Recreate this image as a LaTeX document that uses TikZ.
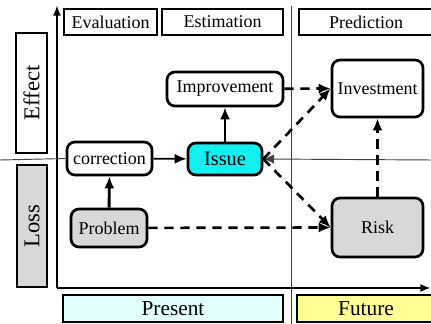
\documentclass[tikz,border=0pt]{standalone}
\usepackage{fontspec}
\setmainfont{Liberation Serif}
\usetikzlibrary{arrows.meta}
\definecolor{issuecyan}{RGB}{20,240,240}
\definecolor{boxgrey}{RGB}{216,216,216}
\definecolor{presentfill}{RGB}{225,255,255}
\definecolor{futurefill}{RGB}{255,255,150}
\begin{document}
\begin{tikzpicture}[x=0.75pt,y=-0.75pt,
  every node/.style={inner sep=0pt,font=\fontsize{13.5}{16}\selectfont},
  label box/.style={draw,line width=0.8pt,minimum height=19.5pt},
  side box/.style={draw,line width=1.4pt,rotate=90,font=\fontsize{17}{20}\selectfont},
  time box/.style={draw,line width=1.3pt,minimum height=20.25pt,font=\fontsize{16}{19}\selectfont},
  item/.style={draw,line width=2pt,rounded corners=6pt},
  tip/.style={-{Latex[length=9pt,width=7.5pt]}},
  solidlink/.style={tip,line width=2.2pt},
  dashlink/.style={tip,line width=2pt,dash pattern=on 7pt off 5pt},
  thin rule/.style={line width=0.7pt,black!75}]
\useasboundingbox (0,0) rectangle (431,324);

% guide rule splitting present from future
\draw[thin rule] (291,6) -- (291,324);

% column headings
\node[label box,minimum width=69.75pt] (eval) at (110.5,22) {Evaluation};
\node[label box,minimum width=90.75pt] (est) at (222.5,22) {Estimation};
\node[label box,minimum width=100.5pt] (pred) at (366,22) {Prediction};

% row headings
\node[side box,minimum width=90pt,minimum height=23.25pt] (effect) at (31.5,93) {Effect};
\node[side box,fill=boxgrey,minimum width=91.5pt,minimum height=22.5pt] (loss) at (32,226) {Loss};

% time headings
\node[time box,fill=presentfill,minimum width=165pt] (present) at (173,308.5) {Present};
\node[time box,fill=futurefill,minimum width=103.5pt] (future) at (366,308.5) {Future};

% axes
\coordinate (origin) at (57,288);
\coordinate (ytop) at (57,5);
\coordinate (xend) at (431,288);
\draw[line width=1.6pt,-{Latex[length=8pt,width=6pt]}] (origin) -- (ytop);
\draw[line width=1.6pt,-{Latex[length=8pt,width=6pt]}] (origin) -- (xend);

% items
\node[item,minimum width=87pt,minimum height=25.5pt] (impr) at (225,89) {Improvement};
\node[item,minimum width=68.25pt,minimum height=42.75pt] (invest) at (377.5,88.5) {Investment};
\node[item,minimum width=63.75pt,minimum height=24.75pt] (corr) at (109.5,158.5) {correction};
\node[item,fill=issuecyan,minimum width=55.5pt,minimum height=24pt,font=\fontsize{15.3}{18}\selectfont] (issue) at (225,159) {Issue};
\node[item,fill=boxgrey,minimum width=57pt,minimum height=28.5pt] (prob) at (109,228) {Problem};
\node[item,fill=boxgrey,minimum width=68.25pt,minimum height=44.25pt] (risk) at (377.5,227.5) {Risk};

% horizontal guide rule
\coordinate (leftend) at (0,160);
\coordinate (rightend) at (433,160);
\draw[thin rule] (leftend) -- (corr.west);
\draw[thin rule,-{Latex[length=8pt,width=7pt]}] (rightend) -- (issue.east);

% links
\draw[solidlink] (prob) -- (corr);
\draw[tip,line width=1.4pt] (corr) -- (issue);
\draw[solidlink] (issue) -- (impr);
\draw[dashlink] (impr) -- (invest.west);
\draw[dashlink] (issue.east) -- (invest.west);
\draw[dashlink] (issue.east) -- (risk.west);
\draw[dashlink] (prob) -- (risk.west);
\draw[dashlink] (risk) -- (invest);
\end{tikzpicture}
\end{document}
